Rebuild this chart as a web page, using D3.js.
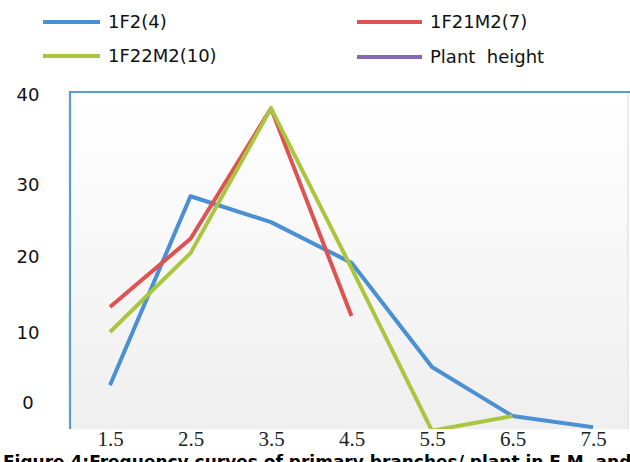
<!DOCTYPE html>
<html>
<head>
<meta charset="utf-8">
<script src="https://cdn.jsdelivr.net/npm/d3@7"></script>
<style>
  html, body { margin: 0; padding: 0; background: #ffffff; }
  svg { display: block; }
  text.pre { white-space: pre; }
</style>
</head>
<body>
<svg id="chart" width="630" height="462"></svg>
<script>
// ---- data ----
const categories = [1.5, 2.5, 3.5, 4.5, 5.5, 6.5, 7.5];
const xTickLabels = ["1.5", "2.5", "3.5", "4.5", "5.5", "6.5", "7.5"];
const yTicks = [0, 10, 20, 30, 40];
const seriesNames = ["1F2(4)", "1F21M2(7)", "1F22M2(10)", "Plant  height"];
const f2Values    = [2.4, 28.3, 24.7, 19.1, 5.0, -2.0, -3.6];
const f21m2Values = [13.3, 22.4, 38.4, 12.1];
const f22m2Values = [10.0, 20.4, 38.4, 18.4, -4.1, -2.0];
const plantHeightValues = [];
const captionText = "Figure 4:Frequency curves of primary branches/ plant in F M  and";

// ---- styles ----
const colors = ["#4a90d2", "#de5252", "#aac63f", "#8566b0"];

const svg = d3.select("#chart");
const W = 630, H = 462;
const plot = { left: 70, top: 92, right: 629, bottom: 429 };

const x = d3.scaleLinear().domain([1.5, 7.5]).range([110, 593]);
const y = d3.scaleLinear().domain(yTicks).range([402, 332, 256, 184, 94]);

// plot background gradient
const defs = svg.append("defs");
const grad = defs.append("linearGradient").attr("id", "bg").attr("x1", 0).attr("y1", 0).attr("x2", 0).attr("y2", 1);
grad.append("stop").attr("offset", "0%").attr("stop-color", "#ffffff");
grad.append("stop").attr("offset", "100%").attr("stop-color", "#efefef");
defs.append("clipPath").attr("id", "clip").append("rect")
  .attr("x", plot.left).attr("y", plot.top)
  .attr("width", plot.right - plot.left).attr("height", plot.bottom - plot.top);

svg.append("rect")
  .attr("x", plot.left).attr("y", plot.top)
  .attr("width", plot.right - plot.left).attr("height", plot.bottom - plot.top)
  .attr("fill", "url(#bg)");
svg.append("line").attr("x1", plot.right - 1).attr("x2", plot.right - 1)
  .attr("y1", plot.top).attr("y2", plot.bottom)
  .attr("stroke", "#e6e6e6").attr("stroke-width", 1.5);

// series lines
const allSeries = [f2Values, f21m2Values, f22m2Values, plantHeightValues];
const line = d3.line().x((d, i) => x(categories[i])).y(d => y(d));
const g = svg.append("g").attr("clip-path", "url(#clip)");
allSeries.forEach((vals, si) => {
  if (!vals.length) return;
  g.append("path").datum(vals)
    .attr("d", line)
    .attr("fill", "none")
    .attr("stroke", colors[si])
    .attr("stroke-width", 4)
    .attr("stroke-linejoin", "round")
    .attr("stroke-linecap", "butt");
});

// frame (left and top, blue)
svg.append("path")
  .attr("d", `M${plot.left},${plot.bottom}V${plot.top}H${W}`)
  .attr("fill", "none").attr("stroke", "#5b9bd5").attr("stroke-width", 2.2);

// y axis labels
const yAxis = d3.axisLeft(y).tickValues(yTicks).tickSize(0).tickPadding(0);
const yg = svg.append("g").attr("transform", "translate(28,0)").call(yAxis);
yg.select(".domain").remove();
yg.selectAll("text")
  .attr("text-anchor", "middle")
  .attr("dy", "0.36em")
  .attr("font-family", "DejaVu Sans, sans-serif")
  .attr("font-size", 18)
  .attr("fill", "#111");

// x axis labels
const xAxis = d3.axisBottom(x).tickValues(categories).tickFormat((d, i) => xTickLabels[i]).tickSize(0).tickPadding(0);
const xg = svg.append("g").attr("transform", "translate(0,431)").call(xAxis);
xg.select(".domain").remove();
xg.selectAll("text")
  .attr("dy", "0.71em")
  .attr("font-family", "Liberation Serif, serif")
  .attr("font-size", 21)
  .attr("fill", "#222");

// legend
const legendPos = [
  { lx: 43, tx: 108, y: 22 },
  { lx: 357, tx: 430, y: 22 },
  { lx: 43, tx: 108, y: 56 },
  { lx: 357, tx: 430, y: 57 }
];
seriesNames.forEach((name, i) => {
  const p = legendPos[i];
  svg.append("line")
    .attr("x1", p.lx).attr("x2", p.lx + (i % 2 ? 65 : 57))
    .attr("y1", p.y).attr("y2", p.y)
    .attr("stroke", colors[i]).attr("stroke-width", 4);
  svg.append("text")
    .attr("class", "pre")
    .attr("x", p.tx).attr("y", p.y)
    .attr("dy", "0.36em")
    .attr("font-family", "DejaVu Sans, sans-serif")
    .attr("font-size", 18)
    .attr("fill", "#111")
    .text(name);
});

// caption (cut off at the bottom, as in the source)
svg.append("text")
  .attr("class", "pre")
  .attr("x", 3).attr("y", 468)
  .attr("font-family", "DejaVu Sans, sans-serif")
  .attr("font-weight", "bold")
  .attr("font-size", 17)
  .attr("fill", "#000")
  .text(captionText);
</script>
</body>
</html>
